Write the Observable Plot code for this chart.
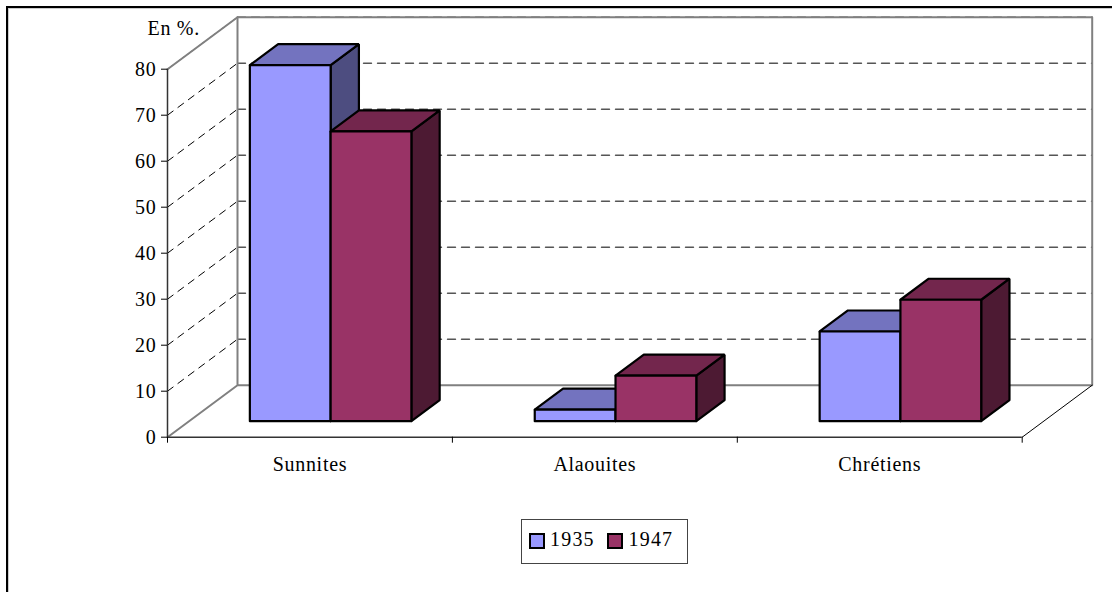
<!DOCTYPE html>
<html>
<head>
<meta charset="utf-8">
<script src="https://cdn.jsdelivr.net/npm/d3@7"></script>
<script src="https://cdn.jsdelivr.net/npm/@observablehq/plot@0.6"></script>
<style>
html,body{margin:0;padding:0;background:#fff;}
#wrap{position:relative;width:1112px;height:592px;overflow:hidden;font-family:"Liberation Serif",serif;color:#000;}
#wrap svg{position:absolute;left:0;top:0;}
#frame{position:absolute;left:6px;top:6px;right:-10px;bottom:-10px;border-left:2px solid #000;border-top:2px solid #000;box-shadow:inset 1px 1px 0 #ccc;pointer-events:none;}
#legend{position:absolute;left:521px;top:519px;width:165px;height:43px;border:1px solid #444;background:#fff;font-size:20px;}
#legend span{position:absolute;top:8px;line-height:22px;letter-spacing:1.2px;}
#legend i{position:absolute;top:13px;width:12px;height:12px;border:2px solid #000;display:block;}
</style>
</head>
<body>
<div id="wrap"></div>
<script>
const categories = ["Sunnites", "Alaouites", "Chrétiens"];
const years = ["1935", "1947"];
const values1935 = [77.4, 2.5, 19.5];
const values1947 = [63, 9.9, 26.4];
const yTicks = [0, 10, 20, 30, 40, 50, 60, 70, 80];
const xTicks = [0, 1, 2, 3];
const frontColors = ["#9999FF", "#993366"];
const topColors = ["#7373BF", "#73264D"];
const sideColors = ["#4D4D80", "#4D1A33"];

// oblique projection of the depth axis, in data units per full depth
const depthX = 70 / 284.9;
const depthY = 52 / 4.6;
const barFront = 0.308, barBack = 0.712;
const barGap = 0.2134, barWidth = 0.2835;
const P = (x, v, d) => ({x: x + d * depthX, y: v + d * depthY});

const poly = (id, color, pts) => [...pts, pts[0]].map(p => ({...p, id, color}));
const seg = (id, a, b) => [{...a, id}, {...b, id}];

const series = [values1935, values1947];
const faces = [];
categories.forEach((c, i) => {
  years.forEach((yr, j) => {
    const x0 = i + barGap + j * barWidth, x1 = x0 + barWidth, v = series[j][i];
    const f = barFront, b = barBack, id = c + yr;
    faces.push(...poly(id + "side", sideColors[j], [P(x1, 0, f), P(x1, 0, b), P(x1, v, b), P(x1, v, f)]));
    faces.push(...poly(id + "top", topColors[j], [P(x0, v, f), P(x0, v, b), P(x1, v, b), P(x1, v, f)]));
    faces.push(...poly(id + "front", frontColors[j], [P(x0, 0, f), P(x0, v, f), P(x1, v, f), P(x1, 0, f)]));
  });
});

const backGrid = yTicks.slice(1).flatMap(t => seg("b" + t, P(0, t, 1), P(3, t, 1)));
const sideGrid = yTicks.slice(1).flatMap(t => seg("s" + t, P(0, t, 0), P(0, t, 1)));
const wall = [
  P(0, 0, 0), P(0, 0, 1), P(3, 0, 1), P(3, 80, 1), P(0, 80, 1), P(0, 0, 1)
];
const wallTop = [P(0, 80, 0), P(0, 80, 1)];
const floorRight = [P(3, 0, 0), P(3, 0, 1)];

const fontFamily = '"Liberation Serif", serif';
const fs = 20;

const chart = Plot.plot({
  width: 1112,
  height: 592,
  marginLeft: 167,
  marginRight: 90.3,
  marginTop: 68.7,
  marginBottom: 155.3,
  x: {domain: [0, 3], axis: null},
  y: {domain: [0, 80], axis: null},
  color: {type: "identity"},
  style: {fontFamily, background: "transparent", color: "#000", letterSpacing: "0.7px", overflow: "visible"},
  marks: [
    Plot.line(backGrid, {x: "x", y: "y", z: "id", stroke: "#555", strokeWidth: 1.4, strokeDasharray: "8,6"}),
    Plot.line(sideGrid, {x: "x", y: "y", z: "id", stroke: "#000", strokeWidth: 1, strokeDasharray: "7,6"}),
    Plot.line(wall, {x: "x", y: "y", stroke: "#808080", strokeWidth: 2}),
    Plot.line(wallTop, {x: "x", y: "y", stroke: "#808080", strokeWidth: 2}),
    Plot.line(floorRight, {x: "x", y: "y", stroke: "#000", strokeWidth: 1}),
    Plot.ruleX([0], {stroke: "#333", strokeWidth: 1.5}),
    Plot.ruleY([0], {stroke: "#333", strokeWidth: 1.5}),
    Plot.axisY({ticks: yTicks, tickSize: 6, tickPadding: 5, label: null, fontSize: fs, stroke: "#000", fill: "#000"}),
    Plot.axisX({ticks: xTicks, tickSize: 6, tickFormat: () => "", label: null, stroke: "#000"}),
    Plot.text(categories, {x: (d, i) => i + 0.5, y: () => 0, text: d => d, dy: 27, fontSize: fs, fill: "#000"}),
    Plot.text(["En %."], {x: () => 0, y: () => 80, text: d => d, textAnchor: "start", dx: -20, dy: -41, fontSize: fs, fill: "#000"}),
    Plot.line(faces, {x: "x", y: "y", z: "id", fill: "color", stroke: "#000", strokeWidth: 2.2, strokeLinejoin: "miter"})
  ]
});

const wrap = document.getElementById("wrap");
wrap.appendChild(chart);

const frame = document.createElement("div");
frame.id = "frame";
wrap.appendChild(frame);

const legend = document.createElement("div");
legend.id = "legend";
years.forEach((yr, j) => {
  const sw = document.createElement("i");
  sw.style.left = (7 + j * 78) + "px";
  sw.style.background = frontColors[j];
  const t = document.createElement("span");
  t.textContent = yr;
  t.style.left = (28 + j * 78.5) + "px";
  legend.append(sw, t);
});
wrap.appendChild(legend);
</script>
</body>
</html>
